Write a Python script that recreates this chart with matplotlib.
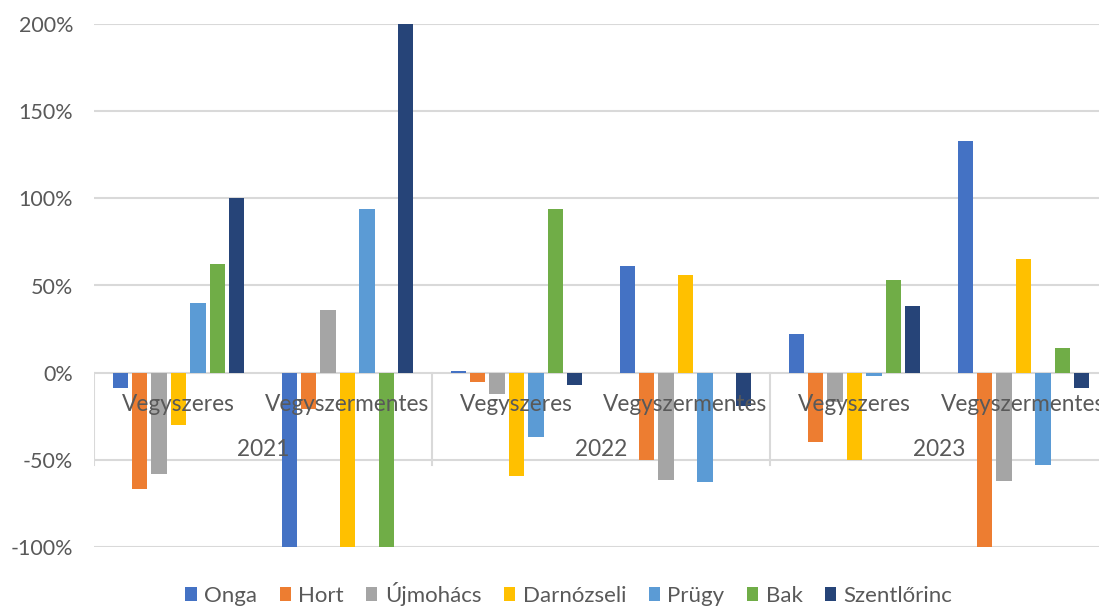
import numpy as np
import matplotlib.pyplot as plt

# categories: (year, type)
years = ['2021', '2022', '2023']
types = ['Vegyszeres', 'Vegyszermentes']

series = ['Onga', 'Hort', 'Újmohács', 'Darnózseli', 'Prügy', 'Bak', 'Szentlőrinc']
colors = ['#4472C4', '#ED7D31', '#A5A5A5', '#FFC000', '#5B9BD5', '#70AD47', '#264478']

# values in %, order: 2021 V, 2021 VM, 2022 V, 2022 VM, 2023 V, 2023 VM
onga = [-9, -100, 1, 61, 22, 133]
hort = [-67, -21, -5.5, -50, -39.5, -100]
ujmohacs = [-58, 36, -12, -61.5, -17, -62]
darnozseli = [-30, -100, -59, 56, -50, 65]
prugy = [40, 94, -37, -63, -2, -53]
bak = [62.5, -100, 94, 0, 53, 14]
szentlorinc = [100, 200, -7, -19, 38, -9]
values = [onga, hort, ujmohacs, darnozseli, prugy, bak, szentlorinc]

plt.rcParams['font.family'] = ['Lato', 'DejaVu Sans']
txt = '#595959'
grid = '#D9D9D9'

fig = plt.figure(figsize=(10.99, 6.08), dpi=100)
ax = fig.add_axes([94 / 1099, 61 / 608, 1014 / 1099, 523 / 608])

x = np.arange(len(years) * len(types))
n = len(series)
slot = 0.115
width = 0.09
for i, (name, vals, c) in enumerate(zip(series, values, colors)):
    ax.bar(x + (i - (n - 1) / 2) * slot, vals, width=width, color=c, label=name, zorder=3)

ax.set_xlim(-0.5, len(x) - 0.5)
ax.set_ylim(-100, 200)
ax.set_yticks(np.arange(-100, 201, 50))
ax.set_yticklabels([f'{v}%' for v in range(-100, 201, 50)], fontsize=15.5, color=txt)
ax.tick_params(axis='y', length=0, pad=15)
ax.set_xticks([])
for v in range(-100, 201, 50):
    if v != 0:
        ax.axhline(v, color=grid, lw=1.5, zorder=1)
ax.axhline(0, color=grid, lw=1.5, zorder=2)
for s in ax.spines.values():
    s.set_visible(False)

# multi-level category axis
for b in [-0.5, 1.5, 3.5, 5.5]:
    ax.plot([b, b], [0, -53], color=grid, lw=1.5, zorder=2)
for k, xi in enumerate(x):
    ax.text(xi, -18.5, types[k % 2], ha='center', va='center', fontsize=16.3, color=txt, zorder=5)
for j, y in enumerate(years):
    ax.text(2 * j + 0.5, -44, y, ha='center', va='center', fontsize=16.3, color=txt, zorder=5)

ax.legend(loc='center', bbox_to_anchor=(569 / 1099, 14 / 608), bbox_transform=fig.transFigure,
          ncol=7, frameon=False, fontsize=16, handlelength=0.5, handleheight=0.6,
          handletextpad=0.35, columnspacing=1.0, labelcolor=txt, borderpad=0.1)

fig.savefig('out.png', dpi=100)
